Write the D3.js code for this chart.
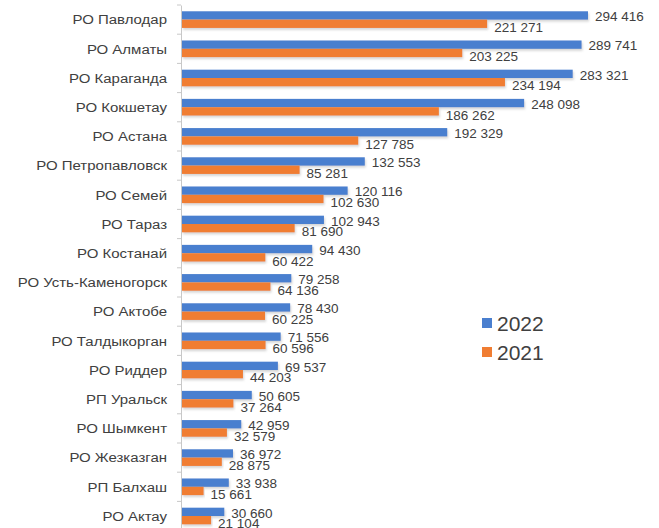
<!DOCTYPE html>
<html>
<head>
<meta charset="utf-8">
<title>РО 2022 / 2021</title>
<script src="https://d3js.org/d3.v7.min.js"></script>
<style>
  body { margin: 0; background: #fff; }
  text { font-family: "Liberation Sans", Arial, sans-serif; fill: #404040; }
</style>
</head>
<body>
<div id="chart"></div>
<script>
// Data
var categories = ["РО Павлодар", "РО Алматы", "РО Караганда", "РО Кокшетау", "РО Астана",
  "РО Петропавловск", "РО Семей", "РО Тараз", "РО Костанай", "РО Усть-Каменогорск",
  "РО Актобе", "РО Талдыкорган", "РО Риддер", "РП Уральск", "РО Шымкент",
  "РО Жезказган", "РП Балхаш", "РО Актау"];
var values2022 = [294416, 289741, 283321, 248098, 192329, 132553, 120116, 102943, 94430, 79258,
  78430, 71556, 69537, 50605, 42959, 36972, 33938, 30660];
var values2021 = [221271, 203225, 234194, 186262, 127785, 85281, 102630, 81690, 60422, 64136,
  60225, 60596, 44203, 37264, 32579, 28875, 15661, 21104];
var seriesNames = ["2022", "2021"];
var colors = ["#4a7fcf", "#f07d32"];

var width = 659, height = 528;
var rowH = 29.2, topY = 5;

var svg = d3.select("#chart").append("svg")
  .attr("width", width).attr("height", height);

var defs = svg.append("defs");
defs.append("filter").attr("id", "shadow")
  .attr("x", "-5%").attr("y", "-30%").attr("width", "110%").attr("height", "180%")
  .append("feDropShadow")
  .attr("dx", 1).attr("dy", 2).attr("stdDeviation", 1)
  .attr("flood-color", "#888").attr("flood-opacity", 0.35);

var x = d3.scaleLinear().domain([0, 294416]).range([182, 588]);
var y = d3.scaleBand().domain(categories)
  .range([topY, topY + rowH * categories.length])
  .paddingInner(0.43).paddingOuter(0.215);
var ySub = d3.scaleBand().domain(seriesNames).range([0, y.bandwidth()]);

var fmt = d3.formatLocale({ decimal: ",", thousands: " ", grouping: [3], currency: ["", ""] }).format(",d");

// axis line with ticks between rows
var axis = d3.axisLeft(y).tickSize(0).tickFormat("");
svg.append("g").attr("transform", "translate(181,0)").call(axis)
  .call(g => g.select(".domain").attr("stroke", "#c8c8c8"));
svg.append("g").selectAll("line")
  .data(d3.range(categories.length + 1))
  .join("line")
  .attr("x1", 177).attr("x2", 181)
  .attr("y1", i => topY + rowH * i).attr("y2", i => topY + rowH * i)
  .attr("stroke", "#c8c8c8");

// category labels (source font is a bit wider, so stretch horizontally)
svg.append("g").selectAll("text")
  .data(categories)
  .join("text")
  .attr("transform", d => "translate(167," + (y(d) + y.bandwidth() / 2) + ") scale(1.11,1)")
  .attr("dy", "0.35em")
  .attr("text-anchor", "end")
  .attr("font-size", 13.5)
  .text(d => d);

var series = [values2022, values2021];
series.forEach(function (vals, s) {
  var g = svg.append("g");
  g.selectAll("rect")
    .data(vals)
    .join("rect")
    .attr("x", x(0))
    .attr("y", (d, i) => y(categories[i]) + ySub(seriesNames[s]))
    .attr("width", d => x(d) - x(0))
    .attr("height", ySub.bandwidth())
    .attr("fill", colors[s])
    .attr("filter", "url(#shadow)");
  g.selectAll("text")
    .data(vals)
    .join("text")
    .attr("x", d => x(d) + 7)
    .attr("y", (d, i) => y(categories[i]) + ySub(seriesNames[s]) + ySub.bandwidth() / 2 + (s === 0 ? 1 : 3.5))
    .attr("dy", "0.35em")
    .attr("font-size", 13.5)
    .text(d => fmt(d));
});

// legend
var legend = svg.append("g").selectAll("g")
  .data(seriesNames)
  .join("g")
  .attr("transform", (d, i) => "translate(482," + (318 + i * 29) + ")");
legend.append("rect")
  .attr("width", 10).attr("height", 10)
  .attr("fill", (d, i) => colors[i]);
legend.append("text")
  .attr("x", 15).attr("y", 5)
  .attr("dy", "0.36em")
  .attr("font-size", 21)
  .text(d => d);
</script>
</body>
</html>
